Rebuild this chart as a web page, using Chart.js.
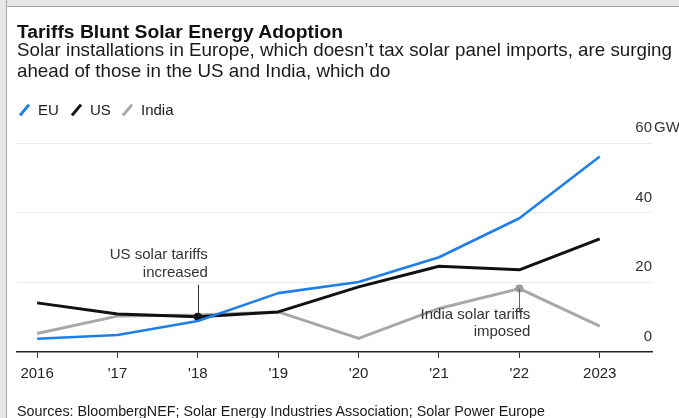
<!DOCTYPE html>
<html>
<head>
<meta charset="utf-8">
<script src="https://cdn.jsdelivr.net/npm/chart.js@4.4.0/dist/chart.umd.min.js"></script>
<style>
  html, body { margin: 0; padding: 0; width: 679px; height: 418px; overflow: hidden; background: #fff;
    font-family: "Liberation Sans", Arial, sans-serif; color: #111; }
  #chart { position: absolute; left: 0; top: 0; }
  #frameTop { position: absolute; left: 0; top: 0; width: 679px; height: 6px; background: #e6e6e6; border-bottom: 1px solid #a8a8a8; z-index: 3; }
  #frameLeft { position: absolute; left: 0; top: 0; width: 6px; height: 418px; background: #e6e6e6; border-right: 1px solid #a8a8a8; z-index: 3; }
  .txt { position: absolute; left: 17px; white-space: nowrap; transform-origin: 0 50%; z-index: 2; }
  #title { top: 20.5px; font-size: 18px; line-height: 22px; font-weight: bold; color: #111; }
  #sub1 { top: 40.3px; font-size: 19px; line-height: 20px; color: #1a1a1a; }
  #sub2 { top: 60.5px; font-size: 19px; line-height: 20px; color: #1a1a1a; }
  #source { top: 401.5px; font-size: 15px; line-height: 18px; color: #1a1a1a; }
  #legend { position: absolute; left: 17px; top: 101.3px; height: 18px; font-size: 15px; line-height: 18px; color: #1a1a1a; z-index: 2; }
  .item { position: absolute; top: 0; white-space: nowrap; }
  .slash { position: absolute; top: 2px; width: 3px; height: 14px; transform: rotate(40deg); }
</style>
</head>
<body>
<canvas id="chart" width="679" height="418"></canvas>
<div id="frameTop"></div>
<div id="frameLeft"></div>
<div class="txt" id="title">Tariffs Blunt Solar Energy Adoption</div>
<div class="txt" id="sub1">Solar installations in Europe, which doesn’t tax solar panel imports, are surging</div>
<div class="txt" id="sub2">ahead of those in the US and India, which do</div>
<div id="legend"></div>
<div class="txt" id="source">Sources: BloombergNEF; Solar Energy Industries Association; Solar Power Europe</div>
<script>
// data (GW per year)
const years = [2016, 2017, 2018, 2019, 2020, 2021, 2022, 2023];
const xTickLabels = ['2016', "'17", "'18", "'19", "'20", "'21", "'22", '2023'];
const euValues = [3.8, 4.9, 8.9, 16.9, 20.1, 27.2, 38.4, 56.1];
const usValues = [14.1, 10.9, 10.1, 11.5, 18.7, 24.6, 23.6, 32.5];
const indiaValues = [5.3, 10.3, 10.6, 11.5, 3.9, 12.5, 18.2, 7.4];
const yTicks = [0, 20, 40, 60];
const seriesNames = ['EU', 'US', 'India'];
const seriesColors = ['#1f7fe8', '#111111', '#a8a8a8'];

const FONT = '"Liberation Sans", Arial, sans-serif';

// fit header/footer texts to the widths seen in the picture
const fitText = (id, width) => {
  const el = document.getElementById(id);
  const w = el.getBoundingClientRect().width;
  el.style.transform = 'scaleX(' + (width / w) + ')';
  return width / w;
};
fitText('title', 326);
const subScale = fitText('sub1', 655);
document.getElementById('sub2').style.transform = 'scaleX(' + subScale + ')';
fitText('source', 528);

// legend with slash markers
const legendEl = document.getElementById('legend');
const legendX = [0, 52, 103];
seriesNames.forEach((name, i) => {
  const item = document.createElement('div');
  item.className = 'item';
  item.style.left = legendX[i] + 'px';
  item.innerHTML = '<span class="slash" style="left:6px;background:' + seriesColors[i] + '"></span>' +
    '<span style="position:absolute;left:21px">' + name + '</span>';
  legendEl.appendChild(item);
});

const toPoints = (vals) => years.map((y, i) => ({ x: y, y: vals[i] }));

// annotations and right-hand value labels
const annotationPlugin = {
  id: 'notes',
  afterDatasetsDraw(chart) {
    const ctx = chart.ctx;
    const us = chart.getDatasetMeta(1).data[years.indexOf(2018)];
    const ind = chart.getDatasetMeta(2).data[years.indexOf(2022)];
    ctx.save();
    ctx.lineWidth = 1;
    ctx.strokeStyle = '#333';
    ctx.beginPath();
    ctx.moveTo(Math.round(us.x) + 0.5, us.y - 32);
    ctx.lineTo(Math.round(us.x) + 0.5, us.y);
    ctx.stroke();
    ctx.strokeStyle = '#666';
    ctx.beginPath();
    ctx.moveTo(Math.round(ind.x) + 0.5, ind.y);
    ctx.lineTo(Math.round(ind.x) + 0.5, ind.y + 24);
    ctx.stroke();

    ctx.font = '15px ' + FONT;
    ctx.fillStyle = '#333';
    ctx.textAlign = 'right';
    ctx.textBaseline = 'middle';
    ctx.fillText('US solar tariffs', us.x + 10, us.y - 62);
    ctx.fillText('increased', us.x + 10, us.y - 44);
    ctx.fillText('India solar tariffs', ind.x + 11, ind.y + 26);
    ctx.fillText('imposed', ind.x + 11, ind.y + 43);
    ctx.restore();
  },
  afterDraw(chart) {
    const ctx = chart.ctx;
    const yScale = chart.scales.y;
    const right = chart.chartArea.right;
    ctx.save();
    ctx.font = '15px ' + FONT;
    ctx.fillStyle = '#333';
    ctx.textBaseline = 'middle';
    yTicks.forEach(v => {
      const py = yScale.getPixelForValue(v) - 15;
      ctx.textAlign = 'right';
      ctx.fillText(String(v), right, py);
      if (v === 60) {
        ctx.textAlign = 'left';
        ctx.fillText('GW', right + 2, py);
      }
    });
    ctx.restore();
  }
};

const markAt = (idx) => (c) => (c.dataIndex === idx ? 4 : 0);

new Chart(document.getElementById('chart'), {
  type: 'line',
  data: {
    datasets: [
      { label: 'EU', data: toPoints(euValues), borderColor: seriesColors[0], borderWidth: 2.6, pointRadius: 0 },
      { label: 'US', data: toPoints(usValues), borderColor: seriesColors[1], borderWidth: 3,
        pointRadius: markAt(2), pointBackgroundColor: '#111', pointBorderWidth: 0 },
      { label: 'India', data: toPoints(indiaValues), borderColor: seriesColors[2], borderWidth: 3,
        pointRadius: markAt(6), pointBackgroundColor: '#9a9a9a', pointBorderWidth: 0 }
    ]
  },
  options: {
    responsive: false,
    animation: false,
    devicePixelRatio: 1,
    layout: { padding: { left: 17, right: 27, top: 143, bottom: 0 } },
    plugins: { legend: { display: false }, tooltip: { enabled: false } },
    elements: { line: { tension: 0, borderJoinStyle: 'round', borderCapStyle: 'butt' } },
    scales: {
      x: {
        type: 'linear',
        min: 2015.75,
        max: 2023.65,
        afterBuildTicks: (s) => { s.ticks = years.map(v => ({ value: v })); },
        afterFit: (s) => { s.height = 66; },
        ticks: {
          callback: (v) => xTickLabels[years.indexOf(v)],
          padding: 7, color: '#222', maxRotation: 0, autoSkip: false,
          font: { size: 15, family: FONT }
        },
        grid: { drawOnChartArea: false, drawTicks: true, tickLength: 6, color: '#333', lineWidth: 1 },
        border: { display: true, color: '#222', width: 1.5 }
      },
      y: {
        min: 0,
        max: 60,
        afterBuildTicks: (s) => { s.ticks = yTicks.map(v => ({ value: v })); },
        afterFit: (s) => { s.width = 0; },
        ticks: { display: false },
        grid: { drawTicks: false, lineWidth: 1, color: (c) => (c.tick && c.tick.value === 0 ? 'rgba(0,0,0,0)' : '#ebebeb') },
        border: { display: false }
      }
    }
  },
  plugins: [annotationPlugin]
});
</script>
</body>
</html>
